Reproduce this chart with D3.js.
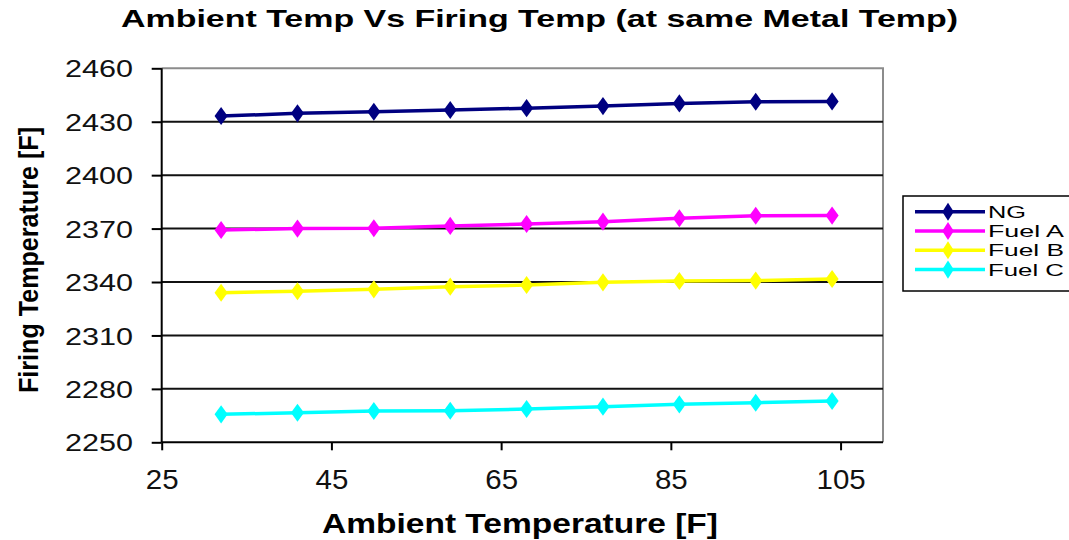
<!DOCTYPE html>
<html>
<head>
<meta charset="utf-8">
<script src="https://cdn.jsdelivr.net/npm/d3@7"></script>
<style>
  html, body { margin: 0; padding: 0; background: #fff; }
  svg { display: block; font-family: "Liberation Sans", Arial, sans-serif; }
</style>
</head>
<body>
<svg id="chart" width="1069" height="540"></svg>
<script>
// Ambient temperature (°F) at which firing temperature was evaluated
const ambient = [32, 41, 50, 59, 68, 77, 86, 95, 104];

// Firing temperature (°F) per fuel
const ngValues    = [2433.2, 2434.7, 2435.6, 2436.6, 2437.6, 2438.8, 2440.3, 2441.2, 2441.4];
const fuelAValues = [2369.2, 2370.0, 2370.2, 2371.5, 2372.6, 2373.9, 2375.8, 2377.2, 2377.3];
const fuelBValues = [2334.0, 2334.8, 2335.9, 2337.4, 2338.3, 2339.8, 2340.6, 2340.8, 2341.7];
const fuelCValues = [2265.7, 2266.6, 2267.6, 2267.7, 2268.7, 2270.0, 2271.3, 2272.2, 2273.2];

const seriesNames  = ["NG", "Fuel A", "Fuel B", "Fuel C"];
const seriesColors = ["#000080", "#ff00ff", "#ffff00", "#00ffff"];

const xTicks = [25, 45, 65, 85, 105];
const yTicks = [2250, 2280, 2310, 2340, 2370, 2400, 2430, 2460];

const titleText = "Ambient Temp Vs Firing Temp (at same Metal Temp)";
const xTitle = "Ambient Temperature [F]";
const yTitle = "Firing Temperature [F]";

const series = seriesNames.map((name, i) => ({
  name,
  color: seriesColors[i],
  values: [ngValues, fuelAValues, fuelBValues, fuelCValues][i]
}));

const svg = d3.select("#chart");
svg.append("rect").attr("width", 1069).attr("height", 540).attr("fill", "#fff");

const plot = { left: 161.7, right: 883, top: 68.3, bottom: 442.3 };

const x = d3.scaleLinear().domain([25, 110]).range([plot.left, plot.right]);
const y = d3.scaleLinear().domain([2250, 2460]).range([plot.bottom, plot.top]);

// plot frame: grey top/right edges
svg.append("path")
  .attr("d", `M${plot.left},${plot.top}H${plot.right}V${plot.bottom}`)
  .attr("fill", "none").attr("stroke", "#8c8c8c").attr("stroke-width", 2);

// horizontal gridlines
svg.append("g").selectAll("line")
  .data(yTicks.filter(v => v > 2250 && v < 2460))
  .join("line")
  .attr("x1", plot.left).attr("x2", plot.right)
  .attr("y1", d => y(d)).attr("y2", d => y(d))
  .attr("stroke", "#111").attr("stroke-width", 2);

// y axis
const yAxis = svg.append("g")
  .attr("transform", `translate(${plot.left},0)`)
  .call(d3.axisLeft(y).tickValues(yTicks).tickSize(10).tickPadding(18.7).tickFormat(d3.format("d")));
yAxis.select(".domain").attr("stroke", "#000").attr("stroke-width", 2)
  .attr("d", `M0,${plot.top}V${plot.bottom}`);
yAxis.selectAll(".tick line").attr("stroke", "#000").attr("stroke-width", 2);
yAxis.selectAll(".tick text")
  .attr("fill", "#111")
  .style("font-family", "'Liberation Sans', Arial, sans-serif")
  .style("font-size", "24px")
  .attr("dy", "0.36em")
  .attr("textLength", 68)
  .attr("lengthAdjust", "spacingAndGlyphs");

// x axis
const xAxis = svg.append("g")
  .attr("transform", `translate(0,${plot.bottom})`)
  .call(d3.axisBottom(x).tickValues(xTicks).tickSize(8).tickPadding(19).tickFormat(d3.format("d")));
xAxis.select(".domain").attr("stroke", "#000").attr("stroke-width", 2)
  .attr("d", `M${plot.left},0H${plot.right}`);
xAxis.selectAll(".tick line").attr("stroke", "#000").attr("stroke-width", 2);
xAxis.selectAll(".tick text")
  .attr("fill", "#111")
  .style("font-family", "'Liberation Sans', Arial, sans-serif")
  .style("font-size", "28px")
  .attr("dy", "0.71em")
  .attr("textLength", d => String(d).length * 16.4)
  .attr("lengthAdjust", "spacingAndGlyphs");

// series lines and diamond markers
const line = d3.line().x((d, i) => x(ambient[i])).y(d => y(d));
const diamond = d3.symbol().type(d3.symbolDiamond).size(95);

const sg = svg.append("g").selectAll("g").data(series).join("g");
sg.append("path")
  .attr("d", d => line(d.values))
  .attr("fill", "none")
  .attr("stroke", d => d.color)
  .attr("stroke-width", 3.5);
sg.selectAll("path.pt")
  .data(d => d.values.map((v, i) => ({ v, i, color: d.color })))
  .join("path")
  .attr("class", "pt")
  .attr("d", diamond)
  .attr("transform", d => `translate(${x(ambient[d.i])},${y(d.v)}) scale(1.25,1)`)
  .attr("fill", d => d.color);

// titles
svg.append("text")
  .attr("x", 121).attr("y", 27)
  .attr("font-size", 24).attr("font-weight", "bold").attr("fill", "#000")
  .attr("textLength", 837).attr("lengthAdjust", "spacingAndGlyphs")
  .text(titleText);

svg.append("text")
  .attr("x", 322).attr("y", 533)
  .attr("font-size", 28).attr("font-weight", "bold").attr("fill", "#000")
  .attr("textLength", 396).attr("lengthAdjust", "spacingAndGlyphs")
  .text(xTitle);

svg.append("text")
  .attr("transform", "translate(38,393) rotate(-90)")
  .attr("font-size", 27).attr("font-weight", "bold").attr("fill", "#000")
  .attr("textLength", 266).attr("lengthAdjust", "spacingAndGlyphs")
  .text(yTitle);

// legend
const legend = svg.append("g");
legend.append("rect")
  .attr("x", 903).attr("y", 196).attr("width", 180).attr("height", 95)
  .attr("fill", "#fff").attr("stroke", "#000").attr("stroke-width", 1.5);
const entries = legend.selectAll("g.entry").data(series).join("g")
  .attr("class", "entry")
  .attr("transform", (d, i) => `translate(0,${211.7 + i * 19.3})`);
entries.append("line")
  .attr("x1", 915).attr("x2", 985).attr("y1", 0).attr("y2", 0)
  .attr("stroke", d => d.color).attr("stroke-width", 3.5);
entries.append("path")
  .attr("d", diamond)
  .attr("transform", "translate(948,0) scale(1.1,1)")
  .attr("fill", d => d.color);
entries.append("text")
  .attr("x", 988).attr("y", 0).attr("dy", "0.36em")
  .attr("font-size", 17).attr("fill", "#000")
  .attr("textLength", d => d.name === "NG" ? 38 : 76)
  .attr("lengthAdjust", "spacingAndGlyphs")
  .text(d => d.name);
</script>
</body>
</html>
